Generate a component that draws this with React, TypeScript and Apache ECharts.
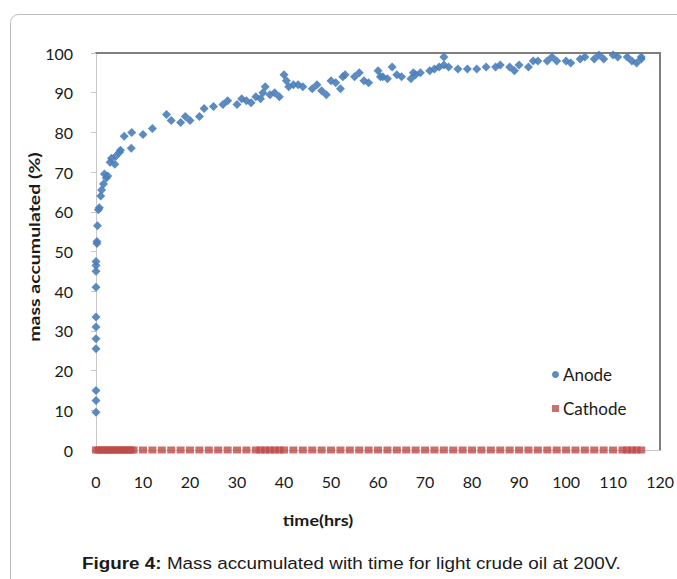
import React, { useEffect, useRef } from "react";
import * as echarts from "echarts";

const anodeTime = [
  0, 0, 0, 0, 0, 0, 0, 0, 0, 0, 0, 0.2, 0.2, 0.3,
  0.5, 0.7, 1, 1.2, 1.6, 1.8, 2.2, 2.5, 3, 3.3, 4, 4.2, 5, 5.2, 6, 7.5, 7.6,
  10, 12, 15, 16, 18, 19, 20, 22, 23, 25, 27, 28, 30, 31, 32, 33, 34, 35, 35.5,
  36, 37, 38, 39, 40, 40.5, 41, 42, 43, 44, 46, 47, 48, 49, 50, 51, 52, 52.5,
  53, 55, 56, 57, 58, 60, 60.5, 61, 62, 63, 64, 65, 67, 67.5, 68, 69, 71, 72,
  73, 74, 74, 75, 77, 79, 81, 83, 85, 86, 88, 89, 90, 92, 93, 94, 96, 97, 98,
  100, 101, 103, 104, 106, 107, 108, 110, 111, 113, 114, 115, 116, 116
];
const anodeMass = [
  9.5, 12.5, 15, 25.5, 28, 31, 33.5, 41, 45, 46.5, 47.5, 52, 52.5, 56.5,
  60.5, 61, 64, 65.5, 67, 69.5, 68.5, 69, 72.5, 73.5, 72, 74, 75, 75.5, 79, 76, 80,
  79.5, 81, 84.5, 83, 82.5, 84, 83, 84, 86, 86.5, 87, 88, 87, 88.5, 88, 87.5, 89, 88.5, 90,
  91.5, 89.5, 90, 89, 94.5, 93, 91.5, 92, 92, 91.5, 91, 92, 90.5, 89.5, 93, 92.5, 91, 94,
  94.5, 94, 95, 93, 92.5, 95.5, 94, 94, 93.5, 96.5, 94.5, 94, 93.5, 95, 94.5, 95, 95.5, 96,
  96.5, 99, 97, 96.5, 96, 96, 96, 96.5, 96.5, 97, 96.5, 95.5, 97, 96.5, 98, 98, 98, 99, 98,
  98, 97.5, 98.5, 99, 98.5, 99.5, 98.5, 99.5, 99, 99, 98, 97.5, 98.5, 99
];
const cathodeTime = [
  0, 0.5, 1, 1.5, 2, 2.5, 3, 3.5, 4, 4.5, 5, 5.5, 6, 6.5, 7, 7.5, 8,
  10, 12, 14, 16, 18, 20, 22, 24, 26, 28, 30, 32, 34, 35, 36, 37, 38, 39, 40,
  42, 44, 46, 48, 50, 52, 54, 56, 58, 60, 62, 64, 66, 68, 70, 72, 74, 76, 78,
  80, 82, 84, 86, 88, 90, 92, 94, 96, 98, 100, 102, 104, 106, 108, 110, 112,
  113, 114, 115, 116
];
const cathodeMass = cathodeTime.map(() => 0);

const xTicks = [0, 10, 20, 30, 40, 50, 60, 70, 80, 90, 100, 110, 120];
const yTicks = [0, 10, 20, 30, 40, 50, 60, 70, 80, 90, 100];

const FONT = "Lato, 'Open Sans', sans-serif";
const ARIAL = "'Liberation Sans', Arial, sans-serif";

export default function App() {
  const ref = useRef<HTMLDivElement>(null);
  useEffect(() => {
    if (!ref.current) return;
    const chart = echarts.init(ref.current, undefined, { renderer: "svg" });
    const tickFont = { fontFamily: FONT, fontSize: 16, color: "#1a1a1a" };
    chart.setOption({
      animation: false,
      backgroundColor: "#ffffff",
      grid: { left: 96, right: 16, top: 53, bottom: 129, containLabel: false },
      legend: {
        orient: "vertical",
        left: 547,
        top: 361,
        itemGap: 17,
        itemWidth: 7,
        itemHeight: 7,
        textStyle: { fontFamily: FONT, fontSize: 17, color: "#1a1a1a", padding: [0, 0, 0, -1] },
        data: [
          { name: "Anode", icon: "circle" },
          { name: "Cathode", icon: "rect" },
        ],
      },
      xAxis: [
        {
          type: "value",
          min: xTicks[0],
          max: xTicks[xTicks.length - 1],
          interval: 10,
          axisLine: { show: true, lineStyle: { color: "#c8c8c8", width: 1 } },
          axisTick: { show: false },
          axisLabel: { ...tickFont, margin: 23 },
          splitLine: { show: false },
        },
        {
          type: "value",
          position: "top",
          min: xTicks[0],
          max: xTicks[xTicks.length - 1],
          axisLine: { show: true, onZero: false, lineStyle: { color: "#7f7f7f", width: 2 } },
          axisTick: { show: false },
          axisLabel: { show: false },
          splitLine: { show: false },
        },
      ],
      yAxis: [
        {
          type: "value",
          min: yTicks[0],
          max: yTicks[yTicks.length - 1],
          interval: 10,
          axisLine: { show: true, lineStyle: { color: "#c8c8c8", width: 1 } },
          axisTick: { show: true, length: 5, lineStyle: { color: "#c8c8c8" } },
          axisLabel: { ...tickFont, margin: 23 },
          splitLine: { show: false },
        },
        {
          type: "value",
          position: "right",
          min: yTicks[0],
          max: yTicks[yTicks.length - 1],
          axisLine: { show: true, onZero: false, lineStyle: { color: "#7f7f7f", width: 2 } },
          axisTick: { show: false },
          axisLabel: { show: false },
          splitLine: { show: false },
        },
      ],
      series: [
        {
          name: "Anode",
          type: "scatter",
          symbol: "diamond",
          symbolSize: 9,
          itemStyle: { color: "#4a7ebb", opacity: 0.9 },
          data: anodeTime.map((t, i) => [t, anodeMass[i]]),
          z: 3,
        },
        {
          name: "Cathode",
          type: "scatter",
          symbol: "rect",
          symbolSize: [8, 7],
          itemStyle: { color: "#be4b48" },
          data: cathodeTime.map((t, i) => [t, cathodeMass[i]]),
          z: 4,
        },
      ],
      graphic: [
        {
          type: "rect",
          silent: true,
          z: -10,
          shape: { x: 10.5, y: 14.5, width: 720, height: 620, r: 8 },
          style: { fill: "none", stroke: "#bdbdbd", lineWidth: 1 },
        },
        {
          type: "text",
          x: 318,
          y: 521,
          scaleX: 1.2,
          style: {
            text: "time(hrs)",
            fontFamily: FONT,
            fontSize: 15,
            fontWeight: "bold",
            fill: "#1a1a1a",
            align: "center",
            verticalAlign: "middle",
          },
        },
        {
          type: "text",
          x: 34,
          y: 247,
          rotation: Math.PI / 2,
          scaleX: 1.3,
          style: {
            text: "mass accumulated (%)",
            fontFamily: FONT,
            fontSize: 15,
            fontWeight: "bold",
            fill: "#1a1a1a",
            align: "center",
            verticalAlign: "middle",
          },
        },
        {
          type: "text",
          x: 82,
          y: 563,
          scaleX: 1.11,
          style: {
            text: "{b|Figure 4:} Mass accumulated with time for light crude oil at 200V.",
            rich: {
              b: { fontFamily: ARIAL, fontSize: 17, fontWeight: "bold", fill: "#1a1a1a" },
            },
            fontFamily: ARIAL,
            fontSize: 17,
            fill: "#1a1a1a",
            verticalAlign: "middle",
          },
        },
      ],
    });
    return () => chart.dispose();
  }, []);
  return (
    <div
      ref={ref}
      style={{ position: "absolute", left: 0, top: 0, width: 677, height: 579 }}
    />
  );
}
